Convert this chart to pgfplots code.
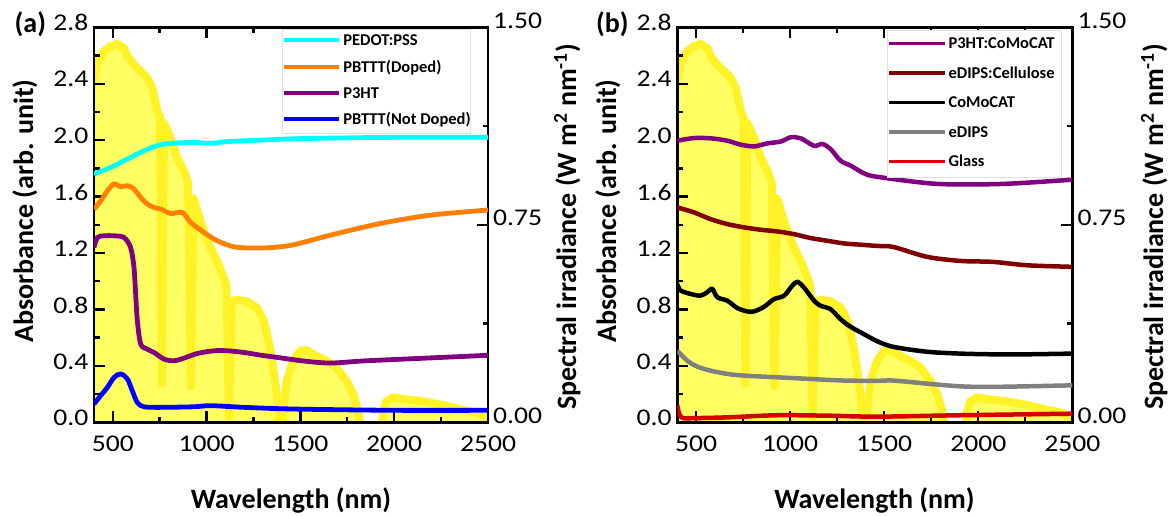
\documentclass[border=0pt]{standalone}
\usepackage{pgfplots}
\pgfplotsset{compat=1.18}
\usepackage{pgfplotstable}
\usepackage{fontspec}
\setmainfont{Carlito}
\newfontfamily\tickfont[FakeStretch=1.15]{Carlito}

\definecolor{solarDark}{RGB}{255,242,38}
\definecolor{solarLight}{RGB}{255,255,100}
\definecolor{cCyan}{RGB}{0,255,255}
\definecolor{cOrange}{RGB}{255,128,0}
\definecolor{cPurple}{RGB}{128,0,128}
\definecolor{cBlue}{RGB}{0,0,255}
\definecolor{cDarkRed}{RGB}{128,0,0}
\definecolor{cGray}{RGB}{128,128,128}
\definecolor{cRed}{RGB}{215,0,0}

\pgfplotstableread{
x y
400 1.297
418 1.364
453 1.409
489 1.428
524 1.437
560 1.421
578 1.39
613 1.358
649 1.333
684 1.308
711 1.27
738 1.181
752 1.16
762 0.146
772 1.137
809 1.08
844 1.004
880 0.953
902 0.91
917 0.136
931 0.85
951 0.801
986 0.725
1022 0.662
1057 0.611
1093 0.547
1106 0.52
1120 0.02
1134 0.46
1164 0.465
1217 0.459
1271 0.434
1306 0.383
1342 0.269
1368 0.142
1386 0.029
1398 -0.03
1409 0.043
1427 0.157
1462 0.233
1498 0.271
1533 0.274
1586 0.252
1640 0.233
1693 0.208
1746 0.157
1782 0.107
1808 0.043
1826 -0.03
1932 -0.03
1941 0.043
1959 0.081
1995 0.095
2066 0.086
2137 0.081
2244 0.068
2350 0.05
2439 0.037
2492 0.02
2500 0.015
}\solar

\pgfplotstableread{
x y
400 1.76
489 1.807
578 1.866
667 1.925
755 1.968
844 1.98
933 1.984
1000 1.978
1050 1.98
1111 1.99
1288 2.0
1466 2.01
1700 2.015
2000 2.02
2500 2.02
}\pedot

\pgfplotstableread{
x y
400 1.51
436 1.57
471 1.64
507 1.69
542 1.67
578 1.677
613 1.654
649 1.594
684 1.547
720 1.523
755 1.512
809 1.48
871 1.488
915 1.417
986 1.346
1057 1.287
1146 1.244
1253 1.235
1360 1.24
1466 1.259
1658 1.326
1925 1.409
2191 1.468
2500 1.505
}\pbtttd

\pgfplotstableread{
x y
400 1.24
418 1.31
453 1.322
507 1.322
560 1.31
595 1.24
613 1.10
622 0.91
631 0.72
649 0.554
684 0.519
720 0.495
773 0.448
826 0.436
880 0.455
951 0.488
1040 0.507
1111 0.507
1200 0.495
1288 0.476
1377 0.46
1515 0.435
1658 0.42
1836 0.435
2102 0.451
2500 0.475
}\pthreeht

\pgfplotstableread{
x y
400 0.13
436 0.19
471 0.247
507 0.318
542 0.343
578 0.307
604 0.224
631 0.14
667 0.11
755 0.106
933 0.11
1022 0.118
1200 0.106
1466 0.094
2000 0.085
2500 0.085
}\pbtttn

\pgfplotstableread{
x y
400 1.996
489 2.015
577 2.013
666 1.996
737 1.968
808 1.956
878 1.977
949 1.99
1002 2.02
1056 2.013
1127 1.96
1171 1.973
1215 1.937
1268 1.854
1321 1.82
1392 1.765
1463 1.74
1782 1.69
2133 1.69
2500 1.72
}\pcomo

\pgfplotstableread{
x y
400 1.523
489 1.488
577 1.44
666 1.405
754 1.382
843 1.365
932 1.353
1020 1.334
1109 1.306
1197 1.287
1286 1.268
1375 1.259
1463 1.25
1548 1.243
1728 1.173
1904 1.144
2080 1.137
2260 1.113
2500 1.102
}\edipscell

\pgfplotstableread{
x y
400 0.98
418 0.934
471 0.91
524 0.898
559 0.922
586 0.946
613 0.886
666 0.862
719 0.81
772 0.786
808 0.786
861 0.819
914 0.873
967 0.897
1011 0.968
1038 0.996
1073 0.956
1127 0.862
1162 0.826
1215 0.802
1268 0.731
1321 0.677
1392 0.625
1462 0.575
1548 0.535
1728 0.5
1904 0.487
2080 0.482
2260 0.482
2500 0.487
}\comocat

\pgfplotstableread{
x y
400 0.507
453 0.437
506 0.395
577 0.366
666 0.343
754 0.331
932 0.319
1109 0.307
1286 0.296
1463 0.294
1548 0.296
1728 0.274
1904 0.255
2080 0.251
2500 0.262
}\edips

\pgfplotstableread{
x y
400 0.12
410 0.06
430 0.03
506 0.03
666 0.035
932 0.05
1197 0.047
1463 0.04
1904 0.05
2500 0.061
}\glass

\pgfplotsset{
  panel/.style={scale only axis, width=394pt, height=395pt, xmin=400, xmax=2500,
    axis line style={line width=2.6pt}, tick style={line width=2.4pt, black},
    major tick length=11pt, minor tick length=5.5pt, tick align=inside,
    tick label style={font=\tickfont\fontsize{24}{24}\selectfont}},
  irraxis/.style={panel, ymin=0, ymax=1.5, hide x axis, axis y line*=right,
    ytick={0,0.75,1.5}, yticklabels={0.00,0.75,1.50}, minor ytick={0.375,1.125},
    yticklabel style={anchor=west, inner sep=0pt, xshift=5pt, yshift=6.5pt}},
  absaxis/.style={panel, ymin=0, ymax=2.8, ytick pos=left, xtick pos=both,
    xtick={500,1000,1500,2000,2500}, xticklabels={500,1000,1500,2000,2500},
    minor xtick={750,1250,1750,2250},
    ytick={0,0.4,0.8,1.2,1.6,2.0,2.4,2.8}, yticklabels={0.0,0.4,0.8,1.2,1.6,2.0,2.4,2.8},
    minor ytick={0.2,0.6,1.0,1.4,1.8,2.2,2.6},
    xticklabel style={anchor=north, inner sep=0pt, yshift=-13pt},
    yticklabel style={anchor=east, inner sep=0pt, xshift=-5.5pt, yshift=4.5pt},
    legend cell align=left},
  solarfill/.style={fill=solarLight, draw=none},
  solarline/.style={draw=solarDark, line width=8pt, line join=round, line cap=round},
  curveA/.style={line width=4.8pt, smooth, tension=0.5, line join=round},
  curveB/.style={line width=4.5pt, smooth, tension=0.5, line join=round},
}

\begin{document}
\begin{tikzpicture}
\useasboundingbox (0pt,0pt) rectangle (1173pt,515pt);

% ---------- panel (a) ----------
\begin{axis}[irraxis, at={(94pt,92.7pt)}, anchor=south west]
\addplot[solarfill] table {\solar} \closedcycle;
\addplot[solarline] table {\solar};
\end{axis}
\begin{axis}[absaxis, at={(94pt,92.7pt)}, anchor=south west,
  legend style={at={(0.477,0.996)}, anchor=north west, draw=black!12, line width=0.8pt,
    inner xsep=0pt, inner ysep=4.5pt, row sep=10.3pt, column sep=2pt,
    font=\bfseries\fontsize{16.5}{16.5}\selectfont,
    nodes={inner sep=0pt, text height=12pt, text depth=4pt}},
  legend image code/.code={\draw[#1, line width=4pt] (0pt,1.5pt) -- (55pt,1.5pt);}]
\addplot[curveA, cCyan] table {\pedot}; \addlegendentry{PEDOT:PSS}
\addplot[curveA, cOrange] table {\pbtttd}; \addlegendentry{PBTTT(Doped)}
\addplot[curveA, cPurple] table {\pthreeht}; \addlegendentry{P3HT}
\addplot[curveA, cBlue] table {\pbtttn}; \addlegendentry{PBTTT(Not Doped)}
\end{axis}

% ---------- panel (b) ----------
\begin{axis}[irraxis, width=395pt, at={(677.3pt,92.7pt)}, anchor=south west]
\addplot[solarfill] table {\solar} \closedcycle;
\addplot[solarline] table {\solar};
\end{axis}
\begin{axis}[absaxis, width=395pt, at={(677.3pt,92.7pt)}, anchor=south west,
  legend style={at={(0.531,0.993)}, anchor=north west, draw=black!12, line width=0.8pt,
    inner xsep=0pt, inner ysep=6.5pt, row sep=13.5pt, column sep=1.5pt,
    font=\bfseries\fontsize{16.5}{16.5}\selectfont,
    nodes={inner sep=0pt, text height=12pt, text depth=4pt}},
  legend image code/.code={\draw[#1, line width=3.6pt] (0pt,1.3pt) -- (56pt,1.3pt);}]
\addplot[curveB, cPurple] table {\pcomo}; \addlegendentry{P3HT:CoMoCAT}
\addplot[curveB, cDarkRed] table {\edipscell}; \addlegendentry{eDIPS:Cellulose\hspace*{7pt}}
\addplot[curveB, black] table {\comocat}; \addlegendentry{CoMoCAT}
\addplot[curveB, cGray] table {\edips}; \addlegendentry{eDIPS}
\addplot[curveB, cRed] table {\glass}; \addlegendentry{Glass}
\end{axis}

% ---------- labels ----------
\begin{scope}[every node/.style={inner sep=0pt, font=\bfseries\fontsize{28}{28}\selectfont}]
\node[anchor=base west] at (14.5pt,482.3pt) {(a)};
\node[anchor=base west] at (596pt,482.3pt) {(b)};
\node[anchor=base] at (291pt,7pt) {Wavelength (nm)};
\node[anchor=base] at (874.5pt,7pt) {Wavelength (nm)};
\node[rotate=90, anchor=base] at (33pt,304pt) {Absorbance (arb. unit)};
\node[rotate=90, anchor=base] at (616pt,304pt) {Absorbance (arb. unit)};
\node[rotate=90, anchor=base] at (576pt,288pt) {Spectral irradiance (W m\textsuperscript{2} nm\textsuperscript{-1})};
\node[rotate=90, anchor=base] at (1163pt,288pt) {Spectral irradiance (W m\textsuperscript{2} nm\textsuperscript{-1})};
\end{scope}
\end{tikzpicture}
\end{document}
